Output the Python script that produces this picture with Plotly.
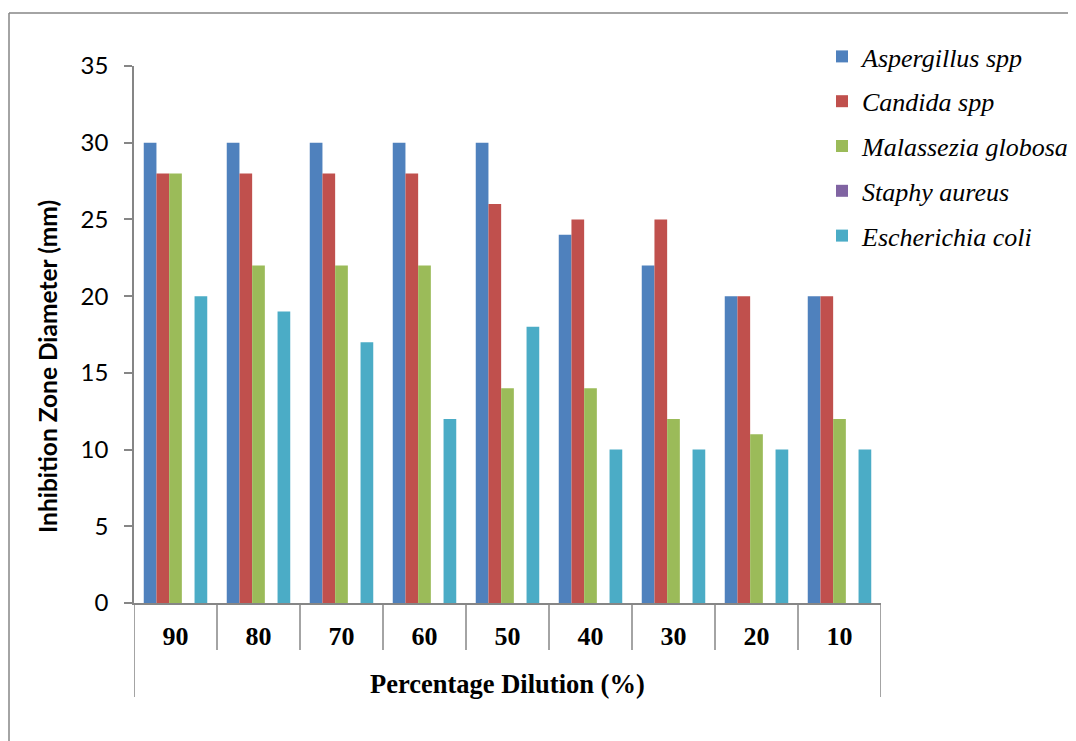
import plotly.graph_objects as go

categories = ["90", "80", "70", "60", "50", "40", "30", "20", "10"]
series_names = ["Aspergillus spp", "Candida spp", "Malassezia globosa", "Staphy aureus", "Escherichia coli"]
aspergillus = [30, 30, 30, 30, 30, 24, 22, 20, 20]
candida = [28, 28, 28, 28, 26, 25, 25, 20, 20]
malassezia = [28, 22, 22, 22, 14, 14, 12, 11, 12]
staphy = [0, 0, 0, 0, 0, 0, 0, 0, 0]
ecoli = [20, 19, 17, 12, 18, 10, 10, 10, 10]
colors = ["#4F81BD", "#C0504D", "#9BBB59", "#8064A2", "#4BACC6"]
y_ticks = [0, 5, 10, 15, 20, 25, 30, 35]

O = 8  # page body margin offset
W, H = 1076 - O, 741 - O
L, R, T, B = 134 - O, 881 - O, 66 - O, 603 - O  # plot area in figure pixels


def px_x(p):
    # p: pixel in reference screenshot coordinates
    return (p - O - L) / (R - L)


def px_y(p):
    return (B - (p - O)) / (B - T)


fig = go.Figure()
for i, (name, vals) in enumerate(zip(series_names, [aspergillus, candida, malassezia, staphy, ecoli])):
    fig.add_trace(go.Bar(
        x=categories, y=vals, name=name, legendgroup=name,
        marker=dict(color=colors[i], line=dict(width=0)),
    ))

grey = "#868686"
shapes = []
# category separators (multi-level style axis)
for k in range(len(categories) + 1):
    outer = k == 0 or k == len(categories)
    shapes.append(dict(type="line", xref="x", yref="paper",
                       x0=k - 0.5, x1=k - 0.5, y0=0,
                       y1=px_y(697) if outer else px_y(650),
                       line=dict(color=grey, width=1.5)))
# chart frame (top and left visible)
shapes.append(dict(type="line", xref="paper", yref="paper",
                   x0=px_x(9), x1=px_x(1090), y0=px_y(13), y1=px_y(13),
                   line=dict(color=grey, width=1.5)))
shapes.append(dict(type="line", xref="paper", yref="paper",
                   x0=px_x(9), x1=px_x(9), y0=px_y(13), y1=px_y(760),
                   line=dict(color=grey, width=1.5)))

annotations = [
    dict(text="<b>Inhibition Zone Diameter (mm)</b>", textangle=-90,
         xref="paper", yref="paper", x=px_x(47), y=px_y(367),
         xanchor="center", yanchor="middle", showarrow=False,
         font=dict(family="Lato", size=24.5, color="black")),
    dict(text="<b>Percentage Dilution (%)</b>",
         xref="paper", yref="paper", x=0.5, y=px_y(684),
         xanchor="center", yanchor="middle", showarrow=False,
         font=dict(family="Liberation Serif", size=26.5, color="black")),
]

fig.update_layout(
    width=W, height=H,
    margin=dict(l=L, r=W - R, t=T, b=H - B, pad=0, autoexpand=False),
    paper_bgcolor="white", plot_bgcolor="white",
    barmode="group", bargap=0.235, bargroupgap=0,
    showlegend=True,
    legend=dict(x=px_x(822), y=px_y(33), xanchor="left", yanchor="top",
                font=dict(family="Liberation Serif", size=26, color="black", style="italic"),
                tracegroupgap=8, bgcolor="rgba(0,0,0,0)"),
    xaxis=dict(type="category", range=[-0.5, len(categories) - 0.5],
               showline=True, linecolor=grey, linewidth=1.5,
               ticks="", showgrid=False, zeroline=False,
               tickfont=dict(family="Liberation Serif", size=26, color="black", weight="bold"),
               ticklabelstandoff=9),
    yaxis=dict(range=[0, 35], tickvals=y_ticks,
               showline=True, linecolor=grey, linewidth=1.5,
               ticks="outside", ticklen=8, tickcolor=grey, tickwidth=1.5,
               showgrid=False, zeroline=False,
               tickfont=dict(family="Lato", size=24, color="black"),
               ticklabelstandoff=11),
    shapes=shapes, annotations=annotations,
)

fig.write_html("out.html")
